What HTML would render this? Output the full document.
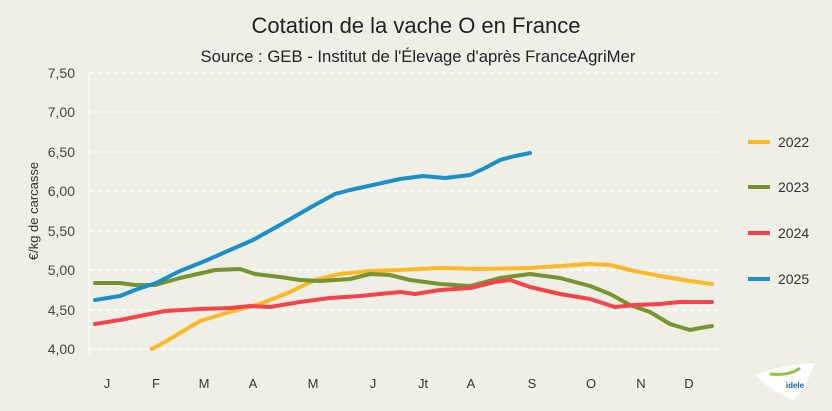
<!DOCTYPE html>
<html><head><meta charset="utf-8"><style>
body{margin:0;background:#efefe6;}
svg{display:block;font-family:"Liberation Sans",sans-serif;}
</style></head><body>
<svg width="832" height="411" viewBox="0 0 832 411">
<rect width="832" height="411" fill="#efefe6"/>
<text x="416" y="33" text-anchor="middle" font-size="22" fill="#222">Cotation de la vache O en France</text>
<text x="418" y="62" text-anchor="middle" font-size="16.7" fill="#222">Source : GEB - Institut de l'Élevage d'après FranceAgriMer</text>
<g stroke="#fff" stroke-width="1.2" stroke-dasharray="5,3">
<line x1="89" x2="720" y1="73" y2="73"/><line x1="89" x2="720" y1="112" y2="112"/>
<line x1="89" x2="720" y1="152" y2="152"/><line x1="89" x2="720" y1="191" y2="191"/>
<line x1="89" x2="720" y1="231" y2="231"/><line x1="89" x2="720" y1="270" y2="270"/>
<line x1="89" x2="720" y1="310" y2="310"/><line x1="89" x2="720" y1="349" y2="349"/>
</g>
<line x1="89" x2="89" y1="73" y2="354" stroke="#fff" stroke-width="1.2"/>
<g font-size="14" fill="#444" text-anchor="end">
<text x="75" y="78">7,50</text><text x="75" y="117">7,00</text><text x="75" y="157">6,50</text>
<text x="75" y="196">6,00</text><text x="75" y="236">5,50</text><text x="75" y="275">5,00</text>
<text x="75" y="315">4,50</text><text x="75" y="354">4,00</text>
</g>
<text transform="translate(38,211) rotate(-90)" text-anchor="middle" font-size="13" fill="#333">€/kg de carcasse</text>
<g font-size="13" fill="#333" text-anchor="middle">
<text x="107" y="388">J</text><text x="156" y="388">F</text><text x="204" y="388">M</text>
<text x="253" y="388">A</text><text x="313" y="388">M</text><text x="373" y="388">J</text>
<text x="423" y="388">Jt</text><text x="471" y="388">A</text><text x="532" y="388">S</text>
<text x="591" y="388">O</text><text x="641" y="388">N</text><text x="689" y="388">D</text>
</g>
<g fill="none" stroke-width="4" stroke-linecap="round" stroke-linejoin="round">
<polyline stroke="#fbb829" points="152,349 165,342 180,333 200,321 230,312 260,304 290,292 315,280 340,274 370,271 400,270 440,268 480,269 530,268 560,266 590,264 610,265 630,270 660,276 690,281 712,284"/>
<polyline stroke="#76942f" points="95,283 120,283 135,285 155,285 180,278 215,270 240,269 255,274 280,277 300,280 320,281 350,279 370,274 390,275 410,280 440,284 470,286 500,278 530,274 560,278 590,286 610,294 630,305 650,312 670,324 690,330 700,328 712,326"/>
<polyline stroke="#f5434b" points="95,324 120,320 140,316 165,311 200,309 230,308 250,306 270,307 300,302 330,298 360,296 380,294 400,292 415,294 440,290 470,288 495,282 510,280 530,287 560,294 590,299 615,307 635,305 660,304 680,302 712,302"/>
<polyline stroke="#1b8fc8" points="95,300 120,296 135,290 156,283 180,271 205,261 230,250 253,240 280,225 313,206 335,194 350,190 373,185 400,179 423,176 445,178 470,175 485,168 500,160 515,156 530,153"/>
</g>
<g stroke-width="4">
<line x1="748" x2="770" y1="142" y2="142" stroke="#fbb829"/>
<line x1="748" x2="770" y1="187" y2="187" stroke="#76942f"/>
<line x1="748" x2="770" y1="233" y2="233" stroke="#f5434b"/>
<line x1="748" x2="770" y1="279" y2="279" stroke="#1b8fc8"/>
</g>
<g font-size="14" fill="#333">
<text x="778" y="147">2022</text><text x="778" y="192">2023</text>
<text x="778" y="238">2024</text><text x="778" y="284">2025</text>
</g>
<path d="M755,375 Q780,365 815,363 Q802,395 793,400 Q770,390 755,375Z" fill="#fff"/>
<path d="M770,374 Q790,376 800,368" stroke="#8cc63f" stroke-width="3" fill="none"/>
<text x="795" y="388" font-size="8" font-weight="bold" fill="#1b5fa8" text-anchor="middle">idele</text>
</svg>
</body></html>
